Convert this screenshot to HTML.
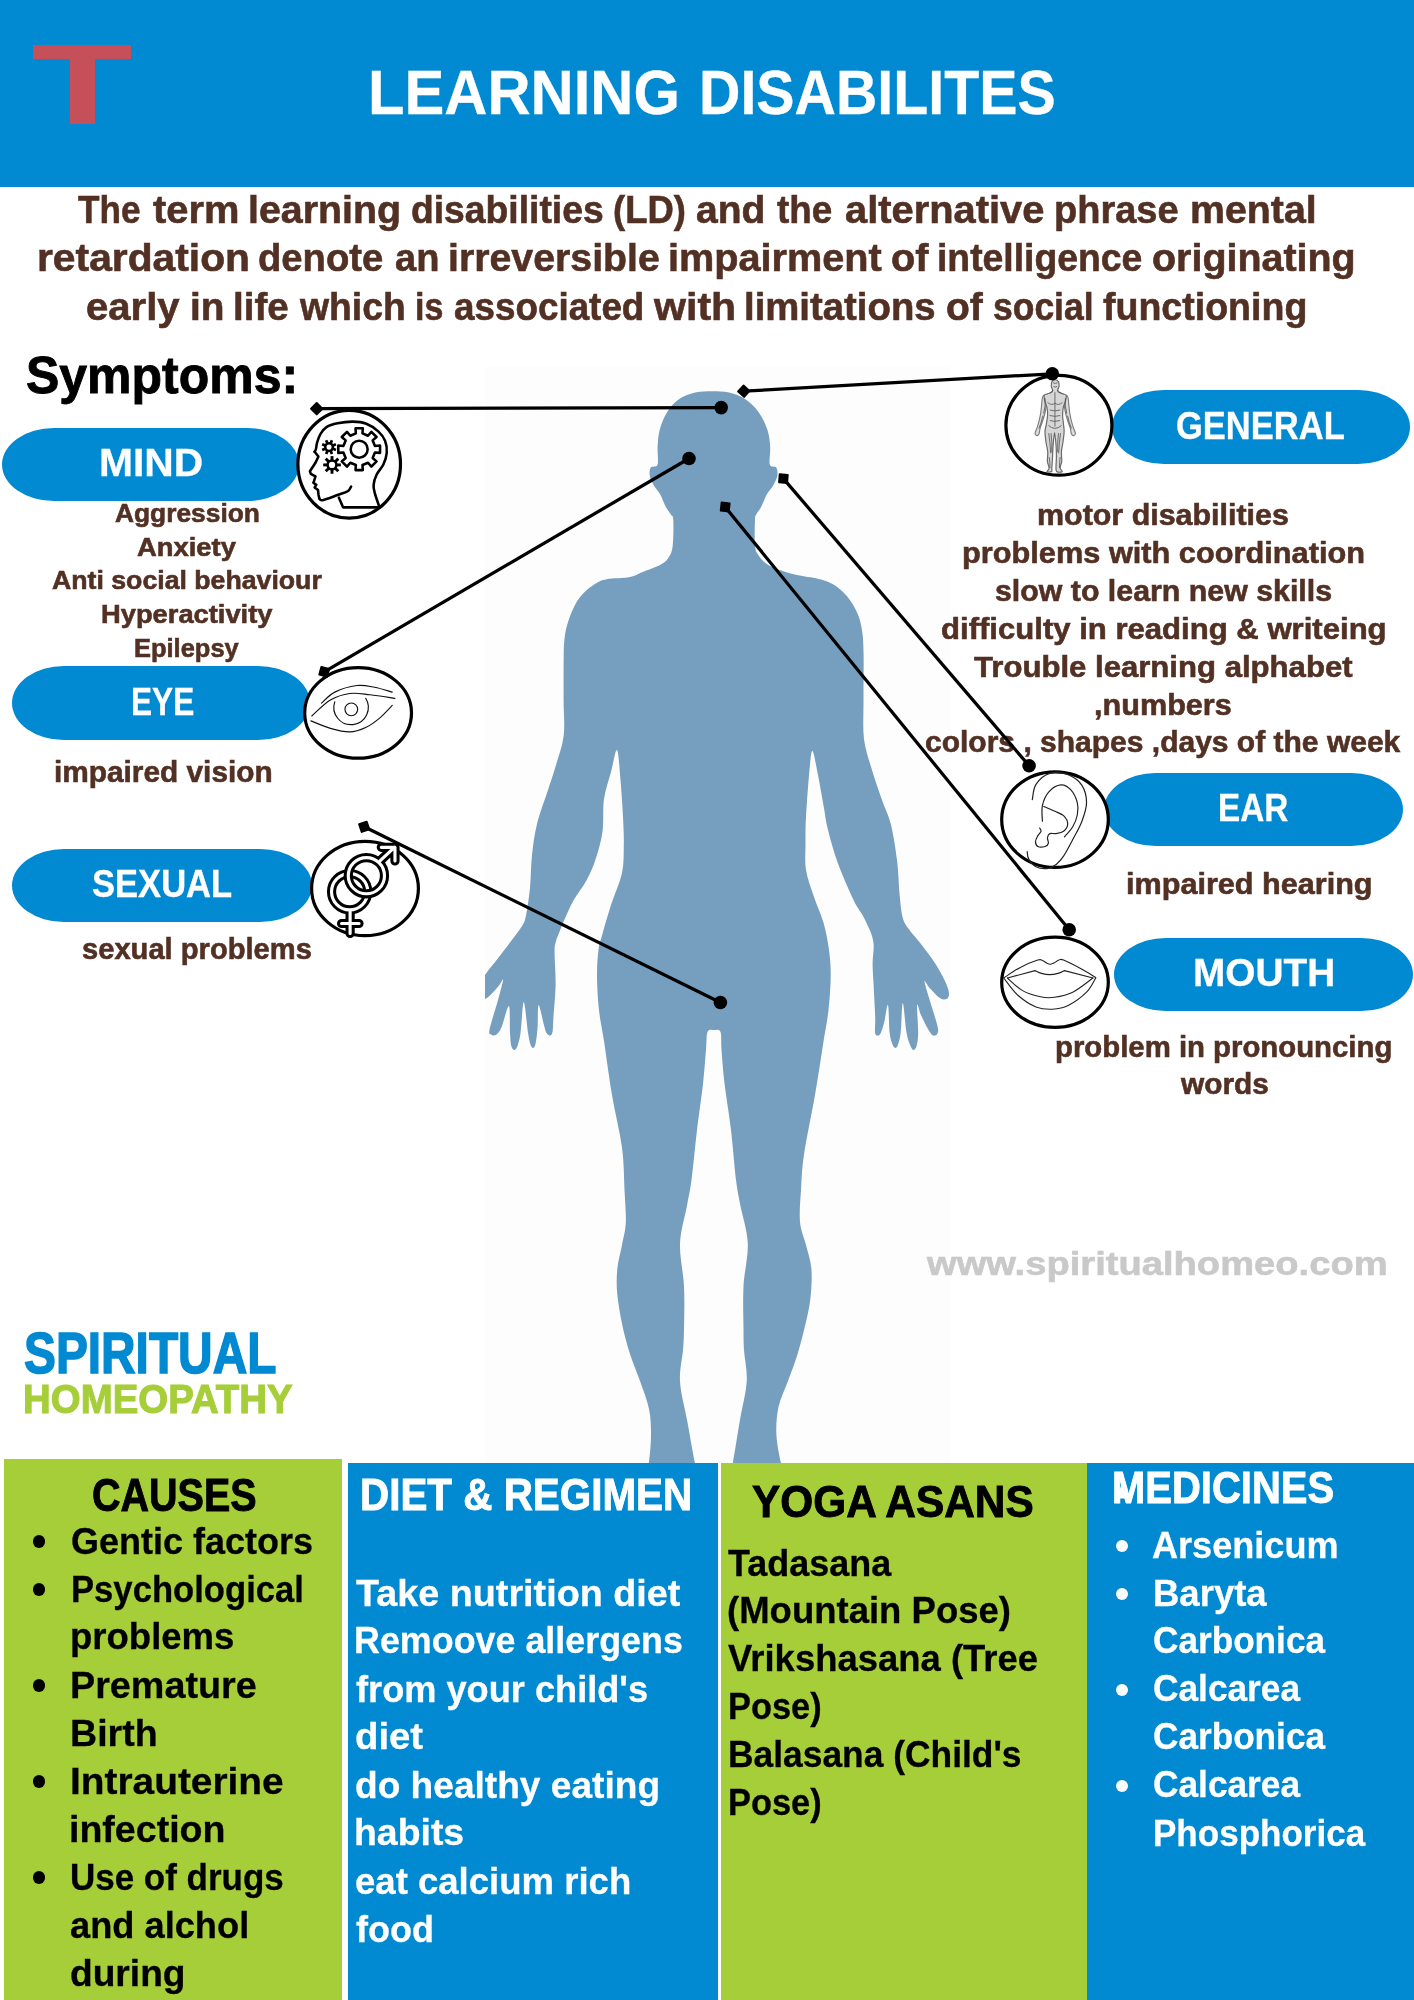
<!DOCTYPE html>
<html lang="en"><head><meta charset="utf-8"><title>Learning Disabilites</title>
<style>
html,body{margin:0;padding:0;background:#fff;}
html{width:1414px;height:2000px;overflow:hidden;}
body{width:1414px;height:2000px;position:relative;overflow:hidden;font-family:"Liberation Sans",sans-serif;}
.b{position:absolute;}
.t{position:absolute;white-space:nowrap;font-weight:bold;-webkit-text-stroke:0.3px;line-height:1;transform-origin:0 0;margin:0;padding:0;}
.pill{position:absolute;background:#0189d2;border-radius:52px / 50%;}
svg{position:absolute;left:0;top:0;display:block;}
</style></head><body>
<div class="b" style="left:0;top:0;width:1414px;height:186.8px;background:#0189d2"></div>
<div class="b" style="left:33.3px;top:45px;width:97.6px;height:14px;background:#c5505a"></div>
<div class="b" style="left:69.8px;top:45px;width:25.2px;height:79.3px;background:#c5505a"></div>
<div class="pill" style="left:1.8px;top:427.9px;width:296.9px;height:73.2px"></div>
<div class="pill" style="left:12.4px;top:665.9px;width:298.1px;height:73.8px"></div>
<div class="pill" style="left:12.4px;top:849px;width:299.9px;height:73.1px"></div>
<div class="pill" style="left:1111.5px;top:390.4px;width:298.3px;height:73.6px"></div>
<div class="pill" style="left:1104.2px;top:772.9px;width:299.1px;height:73.5px"></div>
<div class="pill" style="left:1113.9px;top:937.9px;width:299.3px;height:73.5px"></div>
<svg width="1414" height="2000" viewBox="0 0 1414 2000">
<defs><clipPath id="bc"><rect x="485" y="380" width="466" height="1090"/></clipPath><filter id="bl" x="-5%" y="-5%" width="110%" height="110%"><feGaussianBlur stdDeviation="0.7"/></filter></defs>
<rect x="485" y="366.5" width="465" height="1097" fill="#fdfdfd"/>
<g clip-path="url(#bc)"><path d="M712.2 391.2C717.9 391.2 723.5 391.2 729.1 392.6C734.8 394.0 741.2 396.4 746.1 399.7C751.0 403.0 755.3 407.4 758.8 412.4C762.3 417.3 765.4 423.7 767.3 429.4C769.2 435.1 769.8 440.5 770.2 446.4C770.6 452.2 768.8 461.0 769.8 464.5C770.8 468.0 775.0 465.6 776.3 467.5C777.5 469.4 777.8 473.0 777.3 476.0C776.8 479.0 774.7 482.7 773.0 485.7C771.3 488.7 769.0 490.5 767.0 494.1C765.0 497.7 762.8 503.9 761.0 507.3C759.2 510.7 757.2 512.4 756.2 514.5C755.2 516.6 755.2 514.8 755.0 520.0C754.8 525.2 754.4 539.9 755.0 545.8C755.6 551.7 756.4 552.2 758.6 555.4C760.8 558.6 763.7 562.2 768.3 565.0C772.9 567.8 781.0 570.5 786.3 572.2C791.6 574.0 794.2 574.3 800.0 575.5C805.8 576.7 815.4 578.0 820.8 579.4C826.1 580.8 828.5 581.8 832.1 583.8C835.7 585.8 839.2 588.4 842.5 591.5C845.8 594.6 848.9 598.3 851.6 602.5C854.3 606.7 856.9 611.4 858.7 616.5C860.5 621.6 861.6 626.6 862.4 633.0C863.2 639.4 863.4 643.8 863.6 655.0C863.8 666.2 863.4 686.0 863.5 700.0C863.6 714.0 862.6 727.3 864.0 739.0C865.4 750.7 869.0 759.8 872.0 770.0C875.0 780.2 878.9 791.0 882.0 800.0C885.1 809.0 888.3 814.0 890.8 824.0C893.3 834.0 895.5 848.2 897.0 860.0C898.5 871.8 898.7 885.3 899.6 894.6C900.5 903.9 901.0 910.4 902.3 915.9C903.6 921.4 904.4 922.8 907.6 927.6C910.8 932.4 916.8 938.6 921.4 944.6C926.0 950.6 931.3 957.6 935.2 963.6C939.1 969.6 942.4 975.7 944.7 980.6C947.0 985.5 948.7 989.9 949.0 993.0C949.3 996.1 948.0 998.2 946.5 999.0C945.0 999.8 942.8 999.8 940.0 998.0C937.2 996.2 932.6 991.2 930.0 988.5C927.4 985.8 924.5 979.5 924.5 981.5C924.5 983.5 927.8 993.5 929.9 1000.8C932.0 1008.1 936.0 1019.8 937.3 1025.2C938.6 1030.7 938.2 1031.8 937.5 1033.5C936.8 1035.2 934.6 1036.2 933.0 1035.5C931.4 1034.8 930.0 1032.4 928.0 1029.0C926.0 1025.6 922.8 1019.0 921.0 1015.0C919.2 1011.0 917.6 1002.1 917.1 1005.0C916.6 1007.9 918.3 1025.8 918.2 1032.6C918.1 1039.4 917.4 1043.1 916.6 1046.0C915.8 1048.9 914.5 1050.0 913.5 1050.0C912.5 1050.0 911.7 1048.9 910.5 1046.0C909.3 1043.1 907.8 1039.8 906.5 1032.6C905.2 1025.4 903.8 1003.0 902.8 1003.0C901.8 1003.0 901.5 1025.7 900.7 1032.6C899.9 1039.5 898.9 1041.9 898.0 1044.5C897.1 1047.1 896.4 1048.0 895.5 1048.0C894.6 1048.0 893.5 1047.1 892.5 1044.5C891.5 1041.9 890.4 1039.2 889.6 1032.6C888.9 1026.0 888.9 1006.8 888.0 1005.0C887.1 1003.2 885.5 1017.2 884.3 1022.0C883.0 1026.8 881.7 1031.2 880.5 1033.5C879.3 1035.8 877.9 1035.8 877.0 1035.5C876.1 1035.2 875.3 1035.1 875.0 1032.0C874.7 1028.9 875.4 1024.5 875.2 1016.7C875.0 1008.9 874.0 993.8 873.6 984.9C873.2 976.0 872.6 970.3 872.6 963.6C872.6 956.9 874.0 949.9 873.6 944.6C873.2 939.3 872.3 936.6 870.5 931.8C868.7 927.0 865.8 921.2 863.0 915.9C860.2 910.6 857.7 908.9 853.5 900.0C849.3 891.1 842.0 874.5 837.7 862.8C833.5 851.1 830.4 839.5 828.0 830.0C825.6 820.5 825.3 815.2 823.6 806.0C821.9 796.8 819.9 784.2 818.0 775.0C816.1 765.8 813.9 751.8 812.5 751.0C811.1 750.2 810.6 759.0 809.5 770.0C808.4 781.0 806.7 804.5 806.0 817.0C805.3 829.5 805.5 836.2 805.5 845.0C805.5 853.8 804.6 861.3 806.0 870.0C807.4 878.7 811.1 888.2 814.0 897.0C816.9 905.8 821.1 914.2 823.6 923.0C826.1 931.8 827.8 941.2 829.0 950.0C830.2 958.8 830.8 966.0 830.7 976.0C830.6 986.0 829.7 999.2 828.5 1010.0C827.3 1020.8 825.9 1026.8 823.6 1041.0C821.4 1055.2 818.3 1076.1 815.0 1095.0C811.7 1113.9 806.3 1138.8 804.0 1154.6C801.7 1170.4 801.7 1178.8 801.0 1190.0C800.3 1201.2 799.2 1212.8 800.0 1222.0C800.8 1231.2 804.1 1237.2 806.0 1245.0C807.9 1252.8 810.7 1260.0 811.4 1269.0C812.1 1278.0 811.5 1289.3 810.4 1298.8C809.3 1308.3 807.1 1316.8 805.0 1326.0C802.9 1335.2 800.4 1344.8 797.6 1354.0C794.8 1363.2 791.2 1372.2 788.0 1381.0C784.8 1389.8 780.4 1398.1 778.5 1407.0C776.6 1415.9 776.0 1425.4 776.4 1434.6C776.8 1443.8 779.1 1454.4 780.7 1462.0C782.3 1469.6 785.1 1473.7 786.0 1480.0C786.9 1486.3 795.7 1496.7 786.0 1500.0C776.3 1503.3 737.5 1503.3 728.0 1500.0C718.5 1496.7 728.2 1486.3 729.0 1480.0C729.8 1473.7 731.2 1472.0 733.0 1462.0C734.8 1452.0 737.7 1433.2 740.0 1419.8C742.3 1406.4 746.0 1393.2 746.7 1381.6C747.4 1370.0 744.5 1358.8 744.0 1350.0C743.5 1341.2 743.6 1339.2 743.5 1328.5C743.4 1317.8 742.8 1300.2 743.5 1286.0C744.2 1271.8 748.3 1257.0 747.8 1243.6C747.3 1230.2 742.4 1216.1 740.4 1205.5C738.4 1194.9 737.6 1192.6 736.0 1180.0C734.4 1167.4 732.9 1146.0 731.0 1130.0C729.1 1114.0 726.2 1097.3 724.6 1084.0C723.0 1070.7 722.2 1058.7 721.5 1050.0C720.8 1041.3 721.8 1035.3 720.5 1032.0C719.2 1028.7 716.2 1030.0 714.0 1030.0C711.8 1030.0 708.8 1028.7 707.5 1032.0C706.2 1035.3 706.8 1041.3 706.0 1050.0C705.2 1058.7 704.5 1070.7 703.0 1084.0C701.5 1097.3 698.9 1114.0 697.0 1130.0C695.1 1146.0 693.2 1167.4 691.5 1180.0C689.8 1192.6 688.9 1194.9 687.0 1205.5C685.1 1216.1 680.5 1230.2 680.0 1243.6C679.5 1257.0 683.3 1271.8 684.0 1286.0C684.7 1300.2 684.2 1317.8 684.0 1328.5C683.8 1339.2 683.7 1341.2 683.0 1350.0C682.3 1358.8 679.3 1370.0 680.0 1381.6C680.7 1393.2 684.5 1406.4 687.0 1419.8C689.5 1433.2 692.7 1452.0 694.7 1462.0C696.7 1472.0 698.1 1473.7 699.0 1480.0C699.9 1486.3 709.3 1496.7 700.0 1500.0C690.7 1503.3 652.2 1503.3 643.0 1500.0C633.8 1496.7 644.0 1486.3 645.0 1480.0C646.0 1473.7 648.0 1469.6 649.0 1462.0C650.0 1454.4 651.0 1443.4 651.0 1434.6C651.0 1425.8 650.8 1417.9 649.0 1409.0C647.2 1400.1 643.2 1390.2 640.0 1381.0C636.8 1371.8 632.9 1363.2 630.0 1354.0C627.1 1344.8 624.6 1335.9 622.5 1326.0C620.4 1316.1 618.2 1304.1 617.3 1294.6C616.4 1285.1 616.5 1277.3 617.3 1269.0C618.1 1260.7 620.6 1252.8 622.0 1245.0C623.4 1237.2 625.4 1231.6 625.8 1222.4C626.2 1213.2 625.1 1202.5 624.5 1190.0C623.9 1177.5 624.1 1163.3 622.0 1147.5C619.9 1131.7 615.0 1112.8 612.0 1095.0C609.0 1077.2 606.2 1055.2 604.0 1041.0C601.8 1026.8 600.2 1020.8 599.0 1010.0C597.8 999.2 597.1 986.0 597.0 976.0C596.9 966.0 597.6 957.1 598.5 950.0C599.4 942.9 600.5 941.0 602.6 933.5C604.7 926.0 607.8 915.1 611.0 905.0C614.2 894.9 619.9 883.0 622.0 873.0C624.1 863.0 623.6 854.3 623.8 845.0C624.0 835.7 623.5 827.8 623.0 817.0C622.5 806.2 621.5 791.2 620.5 780.0C619.5 768.8 618.6 751.3 617.0 750.0C615.4 748.7 613.2 763.8 611.0 772.0C608.8 780.2 605.4 789.2 604.0 799.0C602.6 808.8 603.9 821.2 602.6 831.0C601.3 840.8 598.6 849.8 596.0 858.0C593.4 866.2 590.4 873.0 586.7 880.0C583.0 887.0 577.3 893.7 573.7 900.0C570.1 906.3 567.5 912.9 565.2 918.0C562.9 923.1 561.5 926.7 559.9 930.8C558.3 934.9 556.5 938.7 555.6 942.4C554.7 946.1 554.6 945.9 554.6 953.0C554.6 960.1 555.8 974.3 555.6 984.9C555.4 995.5 554.0 1008.9 553.5 1016.7C553.0 1024.5 553.1 1028.9 552.5 1032.0C551.9 1035.1 551.0 1035.3 550.0 1035.5C549.0 1035.7 547.5 1034.7 546.5 1033.0C545.5 1031.3 545.3 1029.9 544.0 1025.2C542.7 1020.5 539.7 1004.6 538.6 1005.0C537.5 1005.4 538.1 1020.8 537.6 1027.3C537.1 1033.8 536.3 1040.5 535.5 1044.0C534.7 1047.5 533.9 1048.0 533.0 1048.0C532.1 1048.0 531.1 1046.6 530.3 1044.0C529.5 1041.4 529.1 1039.6 528.0 1032.6C526.9 1025.6 525.0 1002.0 523.8 1002.0C522.6 1002.0 521.6 1025.3 520.6 1032.6C519.6 1039.9 518.5 1043.1 517.5 1046.0C516.5 1048.9 515.3 1050.0 514.3 1050.0C513.3 1050.0 512.0 1048.9 511.3 1046.0C510.6 1043.1 510.4 1039.3 510.0 1032.6C509.6 1025.9 510.3 1006.9 508.9 1006.0C507.5 1005.1 503.6 1022.5 501.5 1027.3C499.4 1032.0 498.1 1033.2 496.5 1034.5C494.9 1035.8 493.2 1035.8 492.0 1035.0C490.8 1034.2 488.5 1035.7 489.5 1030.0C490.5 1024.3 495.5 1009.1 497.8 1000.8C500.1 992.5 502.8 982.6 503.1 980.0C503.4 977.4 501.4 982.5 499.4 984.9C497.4 987.3 493.5 992.0 490.9 994.4C488.3 996.8 485.3 999.7 484.0 999.0C482.7 998.3 483.0 993.7 483.0 990.0C483.0 986.3 481.8 981.9 484.0 977.0C486.2 972.1 491.9 966.3 496.2 960.5C500.5 954.7 505.8 948.1 510.0 942.4C514.2 936.7 519.1 930.9 521.7 926.5C524.4 922.1 524.5 922.4 525.9 915.9C527.3 909.4 529.0 897.6 530.0 887.5C531.0 877.4 530.8 865.6 532.0 855.0C533.2 844.4 534.3 834.8 537.0 824.0C539.7 813.2 544.8 799.8 548.0 790.0C551.2 780.2 553.4 774.1 556.0 765.0C558.6 755.9 562.4 746.3 563.7 735.5C565.0 724.7 563.6 713.4 563.6 700.0C563.6 686.6 563.5 665.8 563.7 655.0C563.9 644.2 564.2 640.8 565.0 635.0C565.8 629.2 567.0 625.1 568.7 620.0C570.5 614.9 573.0 608.6 575.5 604.1C578.0 599.6 580.6 596.2 583.9 592.8C587.2 589.4 591.5 586.1 595.3 583.8C599.1 581.5 600.8 580.3 606.6 579.2C612.4 578.1 624.1 578.2 630.0 577.0C635.9 575.8 637.0 574.2 642.0 572.2C647.0 570.2 655.6 567.4 660.0 565.0C664.4 562.6 666.4 561.0 668.5 557.8C670.6 554.6 671.9 552.1 672.7 545.8C673.5 539.5 673.6 525.2 673.3 520.0C673.0 514.8 672.1 516.6 670.9 514.5C669.7 512.4 667.8 510.7 666.0 507.3C664.2 503.9 662.0 497.7 660.0 494.1C658.0 490.5 655.7 488.7 654.0 485.7C652.3 482.7 650.3 479.0 649.8 476.0C649.3 473.0 649.5 469.4 650.8 467.5C652.1 465.6 656.5 468.0 657.6 464.5C658.7 461.0 657.2 452.2 657.6 446.4C658.0 440.5 658.2 435.1 659.8 429.4C661.3 423.7 663.8 417.3 666.9 412.4C670.0 407.4 673.5 403.0 678.2 399.7C682.9 396.4 689.5 394.0 695.2 392.6C700.9 391.2 706.6 391.2 712.2 391.2Z" fill="#769ebf" filter="url(#bl)"/></g>
<ellipse cx="349.2" cy="464.2" rx="51.3" ry="53.9" fill="#fff" stroke="#000" stroke-width="3.2"/>
<ellipse cx="358.1" cy="712.9" rx="53.4" ry="45.3" fill="#fff" stroke="#000" stroke-width="3.2"/>
<ellipse cx="365.0" cy="888.5" rx="53.4" ry="47.2" fill="#fff" stroke="#000" stroke-width="3.2"/>
<ellipse cx="1058.9" cy="425.3" rx="53.0" ry="49.9" fill="#fff" stroke="#000" stroke-width="3.2"/>
<ellipse cx="1055.0" cy="819.6" rx="53.3" ry="47.8" fill="#fff" stroke="#000" stroke-width="3.2"/>
<ellipse cx="1055.0" cy="982.3" rx="53.3" ry="45.1" fill="#fff" stroke="#000" stroke-width="3.2"/>
<g transform="translate(290 400) scale(0.08487)" fill="none" stroke="#000" stroke-width="30" stroke-linecap="round" stroke-linejoin="round"><path d="M1050.0 1250.0C1041.7 1225.0 1010.8 1141.7 1000.0 1100.0C989.2 1058.3 981.7 1036.7 985.0 1000.0C988.3 963.3 1000.8 920.0 1020.0 880.0C1039.2 840.0 1080.0 803.3 1100.0 760.0C1120.0 716.7 1136.7 666.7 1140.0 620.0C1143.3 573.3 1136.7 521.7 1120.0 480.0C1103.3 438.3 1076.7 403.3 1040.0 370.0C1003.3 336.7 950.0 299.2 900.0 280.0C850.0 260.8 796.7 255.8 740.0 255.0C683.3 254.2 611.7 264.2 560.0 275.0C508.3 285.8 463.3 299.2 430.0 320.0C396.7 340.8 378.3 370.0 360.0 400.0C341.7 430.0 329.2 470.0 320.0 500.0C310.8 530.0 310.0 561.7 305.0 580.0C300.0 598.3 292.5 605.0 290.0 610.0"/><path d="M290 610L335 665L300 740L235 840L245 870L300 900L285 950L275 975L310 1000L290 1030L330 1060L335 1110L345 1160"/><path d="M345.0 1160.0C351.7 1163.3 349.2 1186.7 385.0 1180.0C420.8 1173.3 510.8 1137.5 560.0 1120.0C609.2 1102.5 653.3 1091.7 680.0 1075.0C706.7 1058.3 713.3 1029.2 720.0 1020.0"/><path d="M575 1150L625 1265L1040 1265"/><path d="M1001 541L1061 537L1061 623L1001 619L974 684L1020 724L959 785L919 739L854 766L858 826L772 826L776 766L711 739L671 785L610 724L656 684L629 619L569 623L569 537L629 541L656 476L610 436L671 375L711 421L776 394L772 334L858 334L854 394L919 421L959 375L1020 436L974 476Z"/><circle cx="815" cy="580" r="100"/><circle cx="460" cy="555" r="45" fill="none" stroke="#000" stroke-width="30"/><line x1="507" y1="575" x2="541" y2="589" stroke="#000" stroke-width="32" stroke-linecap="butt"/><line x1="480" y1="602" x2="494" y2="636" stroke="#000" stroke-width="32" stroke-linecap="butt"/><line x1="440" y1="602" x2="426" y2="636" stroke="#000" stroke-width="32" stroke-linecap="butt"/><line x1="413" y1="575" x2="379" y2="589" stroke="#000" stroke-width="32" stroke-linecap="butt"/><line x1="413" y1="535" x2="379" y2="521" stroke="#000" stroke-width="32" stroke-linecap="butt"/><line x1="440" y1="508" x2="426" y2="474" stroke="#000" stroke-width="32" stroke-linecap="butt"/><line x1="480" y1="508" x2="494" y2="474" stroke="#000" stroke-width="32" stroke-linecap="butt"/><line x1="507" y1="535" x2="541" y2="521" stroke="#000" stroke-width="32" stroke-linecap="butt"/><circle cx="495" cy="765" r="52" fill="none" stroke="#000" stroke-width="30"/><line x1="553" y1="765" x2="599" y2="765" stroke="#000" stroke-width="34" stroke-linecap="butt"/><line x1="536" y1="806" x2="569" y2="839" stroke="#000" stroke-width="34" stroke-linecap="butt"/><line x1="495" y1="823" x2="495" y2="869" stroke="#000" stroke-width="34" stroke-linecap="butt"/><line x1="454" y1="806" x2="421" y2="839" stroke="#000" stroke-width="34" stroke-linecap="butt"/><line x1="437" y1="765" x2="391" y2="765" stroke="#000" stroke-width="34" stroke-linecap="butt"/><line x1="454" y1="724" x2="421" y2="691" stroke="#000" stroke-width="34" stroke-linecap="butt"/><line x1="495" y1="707" x2="495" y2="661" stroke="#000" stroke-width="34" stroke-linecap="butt"/><line x1="536" y1="724" x2="569" y2="691" stroke="#000" stroke-width="34" stroke-linecap="butt"/></g>
<g transform="translate(295 655) scale(0.08840)" fill="none" stroke="#111" stroke-width="13" stroke-linecap="round"><path d="M190.0 690.0C225.0 660.0 328.3 552.5 400.0 510.0C471.7 467.5 545.0 445.0 620.0 435.0C695.0 425.0 765.0 440.8 850.0 450.0C935.0 459.2 1083.3 483.3 1130.0 490.0"/><path d="M300.0 545.0C325.0 524.2 383.3 453.3 450.0 420.0C516.7 386.7 625.0 354.2 700.0 345.0C775.0 335.8 833.3 352.5 900.0 365.0C966.7 377.5 1066.7 410.8 1100.0 420.0"/><path d="M180.0 745.0C216.7 759.2 326.7 809.2 400.0 830.0C473.3 850.8 553.3 871.7 620.0 870.0C686.7 868.3 745.0 845.0 800.0 820.0C855.0 795.0 900.0 761.7 950.0 720.0C1000.0 678.3 1075.0 595.0 1100.0 570.0"/><path d="M450 530A195 195 0 1 0 800 490"/><circle cx="637" cy="615" r="72"/></g>
<g transform="translate(300 815) scale(0.09194)" fill="none" stroke-linecap="round" stroke-linejoin="round"><g stroke="#000" stroke-width="100"><circle cx="540" cy="835" r="197"/><path d="M545 1050V1288M452 1180H642"/></g><g stroke="#fff" stroke-width="34"><circle cx="540" cy="835" r="197"/><path d="M545 1050V1288M452 1180H642"/></g><g stroke="#000" stroke-width="100"><circle cx="722" cy="660" r="197"/><path d="M870 500L1030 350M884 352H1033V500"/></g><g stroke="#fff" stroke-width="34"><circle cx="722" cy="660" r="197"/><path d="M870 500L1030 350M884 352H1033V500"/></g></g>
<g transform="translate(995 360) scale(0.09194)" stroke-linejoin="round" stroke-linecap="round"><path d="M538.0 382.0C545.7 383.7 559.0 400.3 562.0 420.0C565.0 439.7 559.7 471.7 556.0 500.0C552.3 528.3 547.3 560.0 540.0 590.0C532.7 620.0 520.3 654.2 512.0 680.0C503.7 705.8 495.7 724.2 490.0 745.0C484.3 765.8 484.3 792.2 478.0 805.0C471.7 817.8 459.0 823.7 452.0 822.0C445.0 820.3 435.0 809.5 436.0 795.0C437.0 780.5 450.3 759.2 458.0 735.0C465.7 710.8 475.3 677.5 482.0 650.0C488.7 622.5 493.7 598.3 498.0 570.0C502.3 541.7 505.0 506.7 508.0 480.0C511.0 453.3 511.0 426.3 516.0 410.0C521.0 393.7 530.3 380.3 538.0 382.0Z" fill="#dcdcdc" stroke="#7a7a7a" stroke-width="12"/><path d="M772.0 382.0C764.3 383.7 751.0 400.3 748.0 420.0C745.0 439.7 750.3 471.7 754.0 500.0C757.7 528.3 762.7 560.0 770.0 590.0C777.3 620.0 789.7 654.2 798.0 680.0C806.3 705.8 814.3 724.2 820.0 745.0C825.7 765.8 825.7 792.2 832.0 805.0C838.3 817.8 851.0 823.7 858.0 822.0C865.0 820.3 875.0 809.5 874.0 795.0C873.0 780.5 859.7 759.2 852.0 735.0C844.3 710.8 834.7 677.5 828.0 650.0C821.3 622.5 816.3 598.3 812.0 570.0C807.7 541.7 805.0 506.7 802.0 480.0C799.0 453.3 799.0 426.3 794.0 410.0C789.0 393.7 779.7 380.3 772.0 382.0Z" fill="#dcdcdc" stroke="#7a7a7a" stroke-width="12"/><path d="M655.0 215.0C666.7 215.0 683.0 223.3 690.0 235.0C697.0 246.7 698.3 270.0 697.0 285.0C695.7 300.0 683.2 314.5 682.0 325.0C680.8 335.5 680.3 340.8 690.0 348.0C699.7 355.2 725.8 361.8 740.0 368.0C754.2 374.2 770.3 373.0 775.0 385.0C779.7 397.0 773.5 417.5 768.0 440.0C762.5 462.5 747.5 493.3 742.0 520.0C736.5 546.7 734.5 570.0 735.0 600.0C735.5 630.0 742.2 670.0 745.0 700.0C747.8 730.0 753.2 746.7 752.0 780.0C750.8 813.3 743.0 863.3 738.0 900.0C733.0 936.7 724.0 966.7 722.0 1000.0C720.0 1033.3 728.3 1070.8 726.0 1100.0C723.7 1129.2 707.0 1156.3 708.0 1175.0C709.0 1193.7 735.0 1204.5 732.0 1212.0C729.0 1219.5 701.3 1222.8 690.0 1220.0C678.7 1217.2 667.7 1223.3 664.0 1195.0C660.3 1166.7 668.0 1094.2 668.0 1050.0C668.0 1005.8 667.3 973.3 664.0 930.0C660.7 886.7 653.3 790.0 648.0 790.0C642.7 790.0 635.7 886.7 632.0 930.0C628.3 973.3 628.3 1008.3 626.0 1050.0C623.7 1091.7 619.7 1153.0 618.0 1180.0C616.3 1207.0 624.7 1206.0 616.0 1212.0C607.3 1218.0 570.7 1221.7 566.0 1216.0C561.3 1210.3 587.3 1197.3 588.0 1178.0C588.7 1158.7 572.3 1129.7 570.0 1100.0C567.7 1070.3 576.3 1033.3 574.0 1000.0C571.7 966.7 561.0 936.7 556.0 900.0C551.0 863.3 543.7 813.3 544.0 780.0C544.3 746.7 553.3 730.0 558.0 700.0C562.7 670.0 570.7 630.0 572.0 600.0C573.3 570.0 571.3 546.7 566.0 520.0C560.7 493.3 545.2 462.5 540.0 440.0C534.8 417.5 530.0 397.0 535.0 385.0C540.0 373.0 556.2 374.2 570.0 368.0C583.8 361.8 608.7 355.2 618.0 348.0C627.3 340.8 627.0 335.5 626.0 325.0C625.0 314.5 613.0 300.0 612.0 285.0C611.0 270.0 612.8 246.7 620.0 235.0C627.2 223.3 643.3 215.0 655.0 215.0Z" fill="#d6d6d6" stroke="#6a6a6a" stroke-width="13"/><g fill="none" stroke="#3c3c3c" stroke-width="10" opacity=".75"><path d="M575 465Q615 500 652 470Q690 500 730 465M652 355V720M600 545Q652 565 705 545M598 605Q652 622 706 605M602 660Q652 676 702 660M585 715Q652 775 720 715"/><path d="M585 800Q600 900 606 1010M712 800Q698 900 692 1010M610 800Q622 900 618 1000M690 800Q678 900 682 1000M590 1060Q600 1120 598 1170M708 1060Q700 1120 702 1170"/><path d="M636 250Q655 262 676 250M640 290Q655 300 672 290M630 330L600 362M682 330L712 362"/><path d="M545 420Q552 500 530 580M765 420Q758 500 780 580M520 610Q505 680 480 740M790 610Q805 680 830 740"/></g></g>
<g transform="translate(990 755) scale(0.09194)" fill="none" stroke="#222" stroke-width="13" stroke-linecap="round"><path d="M460.0 485.0C466.7 457.5 468.3 367.5 500.0 320.0C531.7 272.5 591.7 217.5 650.0 200.0C708.3 182.5 791.7 193.3 850.0 215.0C908.3 236.7 966.7 279.2 1000.0 330.0C1033.3 380.8 1050.0 455.0 1050.0 520.0C1050.0 585.0 1025.0 653.3 1000.0 720.0C975.0 786.7 933.3 856.7 900.0 920.0C866.7 983.3 830.0 1055.0 800.0 1100.0C770.0 1145.0 750.0 1167.5 720.0 1190.0C690.0 1212.5 656.7 1230.8 620.0 1235.0C583.3 1239.2 533.3 1232.5 500.0 1215.0C466.7 1197.5 435.8 1157.5 420.0 1130.0C404.2 1102.5 407.5 1063.3 405.0 1050.0"/><path d="M570.0 720.0C570.0 691.7 558.3 603.3 570.0 550.0C581.7 496.7 606.7 437.5 640.0 400.0C673.3 362.5 730.0 328.3 770.0 325.0C810.0 321.7 850.0 347.5 880.0 380.0C910.0 412.5 938.3 475.0 950.0 520.0C961.7 565.0 958.3 606.7 950.0 650.0C941.7 693.3 923.3 740.0 900.0 780.0C876.7 820.0 825.0 871.7 810.0 890.0"/><path d="M585.0 560.0C604.2 568.3 664.2 593.3 700.0 610.0C735.8 626.7 775.8 636.7 800.0 660.0C824.2 683.3 845.0 721.7 845.0 750.0C845.0 778.3 820.8 812.5 800.0 830.0C779.2 847.5 745.0 850.8 720.0 855.0C695.0 859.2 665.8 847.5 650.0 855.0C634.2 862.5 627.5 882.5 625.0 900.0C622.5 917.5 639.2 944.2 635.0 960.0C630.8 975.8 619.2 989.2 600.0 995.0C580.8 1000.8 537.5 1004.2 520.0 995.0C502.5 985.8 495.0 959.2 495.0 940.0C495.0 920.8 510.0 898.3 520.0 880.0C530.0 861.7 551.7 844.2 555.0 830.0C558.3 815.8 542.5 800.8 540.0 795.0"/></g>
<g transform="translate(990 915) scale(0.09194)" fill="none" stroke="#222" stroke-width="12" stroke-linecap="round" stroke-linejoin="round"><path d="M150.0 685.0C180.0 665.8 268.3 602.5 330.0 570.0C391.7 537.5 480.0 502.5 520.0 490.0C560.0 477.5 553.3 489.2 570.0 495.0C586.7 500.8 605.0 518.3 620.0 525.0C635.0 531.7 646.7 535.8 660.0 535.0C673.3 534.2 685.0 527.5 700.0 520.0C715.0 512.5 733.3 495.0 750.0 490.0C766.7 485.0 758.3 473.3 800.0 490.0C841.7 506.7 941.7 558.3 1000.0 590.0C1058.3 621.7 1125.0 665.0 1150.0 680.0"/><path d="M150.0 685.0C175.0 715.8 241.7 817.5 300.0 870.0C358.3 922.5 436.7 974.2 500.0 1000.0C563.3 1025.8 621.7 1027.5 680.0 1025.0C738.3 1022.5 788.3 1015.8 850.0 985.0C911.7 954.2 1000.0 890.0 1050.0 840.0C1100.0 790.0 1133.3 710.8 1150.0 685.0"/><path d="M190 685L490 605C501.7 610.0 533.3 627.8 560.0 635.0C586.7 642.2 620.0 648.0 650.0 648.0C680.0 648.0 713.3 642.2 740.0 635.0C766.7 627.8 798.3 610.0 810.0 605.0"/><path d="M810 605L1120 685"/><path d="M190.0 685.0C216.7 707.5 290.0 785.8 350.0 820.0C410.0 854.2 491.7 877.5 550.0 890.0C608.3 902.5 641.7 903.3 700.0 895.0C758.3 886.7 830.0 875.0 900.0 840.0C970.0 805.0 1083.3 710.8 1120.0 685.0"/></g>
</svg>
<div class="b" style="left:4px;top:1459px;width:338px;height:541px;background:#a6ce39"></div>
<div class="b" style="left:348px;top:1462.6px;width:370px;height:537.4px;background:#0189d2"></div>
<div class="b" style="left:720.6px;top:1462.6px;width:366.6px;height:537.4px;background:#a6ce39"></div>
<div class="b" style="left:1087.2px;top:1462.6px;width:326.8px;height:537.4px;background:#0189d2"></div>
<div class="b" style="left:32.6px;top:1535.3px;width:12.4px;height:12.4px;border-radius:50%;background:#000"></div>
<div class="b" style="left:32.6px;top:1583.2px;width:12.4px;height:12.4px;border-radius:50%;background:#000"></div>
<div class="b" style="left:32.6px;top:1679.3px;width:12.4px;height:12.4px;border-radius:50%;background:#000"></div>
<div class="b" style="left:32.6px;top:1775.3px;width:12.4px;height:12.4px;border-radius:50%;background:#000"></div>
<div class="b" style="left:32.6px;top:1871.4px;width:12.4px;height:12.4px;border-radius:50%;background:#000"></div>
<div class="b" style="left:1115.6px;top:1539.5px;width:12.4px;height:12.4px;border-radius:50%;background:#fff"></div>
<div class="b" style="left:1115.6px;top:1587.5px;width:12.4px;height:12.4px;border-radius:50%;background:#fff"></div>
<div class="b" style="left:1115.6px;top:1683.7px;width:12.4px;height:12.4px;border-radius:50%;background:#fff"></div>
<div class="b" style="left:1115.6px;top:1779.8px;width:12.4px;height:12.4px;border-radius:50%;background:#fff"></div>
<div class="t" id="t0" style="left:368.19px;top:62.40px;font-size:62.21px;color:#fff;transform:scaleX(0.9601);">LEARNING</div>
<div class="t" id="t1" style="left:698.56px;top:62.40px;font-size:62.21px;color:#fff;transform:scaleX(0.9214);">DISABILITES</div>
<div class="t" id="t2" style="left:78.08px;top:190.00px;font-size:39.69px;color:#523023;transform:scaleX(0.8866);-webkit-text-stroke:0.6px;">The</div>
<div class="t" id="t3" style="left:153.41px;top:190.00px;font-size:39.69px;color:#523023;transform:scaleX(1.0048);-webkit-text-stroke:0.6px;">term</div>
<div class="t" id="t4" style="left:247.55px;top:190.00px;font-size:39.69px;color:#523023;transform:scaleX(0.9918);-webkit-text-stroke:0.6px;">learning</div>
<div class="t" id="t5" style="left:410.94px;top:190.00px;font-size:39.69px;color:#523023;transform:scaleX(0.9394);-webkit-text-stroke:0.6px;">disabilities</div>
<div class="t" id="t6" style="left:613.06px;top:190.00px;font-size:39.69px;color:#523023;transform:scaleX(0.9188);-webkit-text-stroke:0.6px;">(LD)</div>
<div class="t" id="t7" style="left:696.14px;top:190.00px;font-size:39.69px;color:#523023;transform:scaleX(0.9841);-webkit-text-stroke:0.6px;">and</div>
<div class="t" id="t8" style="left:777.33px;top:190.00px;font-size:39.69px;color:#523023;transform:scaleX(0.9277);-webkit-text-stroke:0.6px;">the</div>
<div class="t" id="t9" style="left:844.72px;top:190.00px;font-size:39.69px;color:#523023;transform:scaleX(1.0046);-webkit-text-stroke:0.6px;">alternative</div>
<div class="t" id="t10" style="left:1054.07px;top:190.00px;font-size:39.69px;color:#523023;transform:scaleX(0.9576);-webkit-text-stroke:0.6px;">phrase</div>
<div class="t" id="t11" style="left:1189.59px;top:190.00px;font-size:39.69px;color:#523023;transform:scaleX(0.9913);-webkit-text-stroke:0.6px;">mental</div>
<div class="t" id="t12" style="left:36.90px;top:238.00px;font-size:39.69px;color:#523023;transform:scaleX(1.0279);-webkit-text-stroke:0.6px;">retardation</div>
<div class="t" id="t13" style="left:258.11px;top:238.00px;font-size:39.69px;color:#523023;transform:scaleX(0.9627);-webkit-text-stroke:0.6px;">denote</div>
<div class="t" id="t14" style="left:394.76px;top:238.00px;font-size:39.69px;color:#523023;transform:scaleX(0.9603);-webkit-text-stroke:0.6px;">an</div>
<div class="t" id="t15" style="left:448.05px;top:238.00px;font-size:39.69px;color:#523023;transform:scaleX(0.9900);-webkit-text-stroke:0.6px;">irreversible</div>
<div class="t" id="t16" style="left:667.93px;top:238.00px;font-size:39.69px;color:#523023;transform:scaleX(0.9996);-webkit-text-stroke:0.6px;">impairment</div>
<div class="t" id="t17" style="left:891.13px;top:238.00px;font-size:39.69px;color:#523023;transform:scaleX(1.0006);-webkit-text-stroke:0.6px;">of</div>
<div class="t" id="t18" style="left:936.57px;top:238.00px;font-size:39.69px;color:#523023;transform:scaleX(0.9410);-webkit-text-stroke:0.6px;">intelligence</div>
<div class="t" id="t19" style="left:1152.44px;top:238.00px;font-size:39.69px;color:#523023;transform:scaleX(0.9938);-webkit-text-stroke:0.6px;">originating</div>
<div class="t" id="t20" style="left:85.93px;top:286.50px;font-size:39.69px;color:#523023;transform:scaleX(1.0103);-webkit-text-stroke:0.6px;">early</div>
<div class="t" id="t21" style="left:190.48px;top:286.50px;font-size:39.69px;color:#523023;transform:scaleX(0.9771);-webkit-text-stroke:0.6px;">in</div>
<div class="t" id="t22" style="left:233.00px;top:286.50px;font-size:39.69px;color:#523023;transform:scaleX(0.9709);-webkit-text-stroke:0.6px;">life</div>
<div class="t" id="t23" style="left:300.25px;top:286.50px;font-size:39.69px;color:#523023;transform:scaleX(0.9406);-webkit-text-stroke:0.6px;">which</div>
<div class="t" id="t24" style="left:415.09px;top:286.50px;font-size:39.69px;color:#523023;transform:scaleX(0.8552);-webkit-text-stroke:0.6px;">is</div>
<div class="t" id="t25" style="left:453.99px;top:286.50px;font-size:39.69px;color:#523023;transform:scaleX(0.9282);-webkit-text-stroke:0.6px;">associated</div>
<div class="t" id="t26" style="left:654.19px;top:286.50px;font-size:39.69px;color:#523023;transform:scaleX(1.0365);-webkit-text-stroke:0.6px;">with</div>
<div class="t" id="t27" style="left:744.11px;top:286.50px;font-size:39.69px;color:#523023;transform:scaleX(0.9660);-webkit-text-stroke:0.6px;">limitations</div>
<div class="t" id="t28" style="left:946.06px;top:286.50px;font-size:39.69px;color:#523023;transform:scaleX(0.9815);-webkit-text-stroke:0.6px;">of</div>
<div class="t" id="t29" style="left:992.83px;top:286.50px;font-size:39.69px;color:#523023;transform:scaleX(0.8941);-webkit-text-stroke:0.6px;">social</div>
<div class="t" id="t30" style="left:1103.44px;top:286.50px;font-size:39.69px;color:#523023;transform:scaleX(0.9463);-webkit-text-stroke:0.6px;">functioning</div>
<div class="t" id="t31" style="left:26.30px;top:350.10px;font-size:51.78px;color:#000;transform:scaleX(0.9653);-webkit-text-stroke:0.9px;">Symptoms:</div>
<div class="t" id="t32" style="left:99.06px;top:444.10px;font-size:38.81px;color:#fff;transform:scaleX(1.0517);">MIND</div>
<div class="t" id="t33" style="left:130.98px;top:682.50px;font-size:38.81px;color:#fff;transform:scaleX(0.8148);">EYE</div>
<div class="t" id="t34" style="left:92.43px;top:865.20px;font-size:38.81px;color:#fff;transform:scaleX(0.8907);">SEXUAL</div>
<div class="t" id="t35" style="left:1175.56px;top:406.80px;font-size:38.66px;color:#fff;transform:scaleX(0.8927);">GENERAL</div>
<div class="t" id="t36" style="left:1218.46px;top:789.10px;font-size:38.52px;color:#fff;transform:scaleX(0.8641);">EAR</div>
<div class="t" id="t37" style="left:1192.59px;top:954.10px;font-size:38.52px;color:#fff;transform:scaleX(1.0080);">MOUTH</div>
<div class="t" id="t38" style="left:114.91px;top:500.90px;font-size:25.95px;color:#523023;transform:scaleX(1.0153);-webkit-text-stroke:0.6px;">Aggression</div>
<div class="t" id="t39" style="left:137.20px;top:534.90px;font-size:25.95px;color:#523023;transform:scaleX(1.0558);-webkit-text-stroke:0.6px;">Anxiety</div>
<div class="t" id="t40" style="left:51.91px;top:568.40px;font-size:25.95px;color:#523023;transform:scaleX(1.0284);-webkit-text-stroke:0.6px;">Anti social behaviour</div>
<div class="t" id="t41" style="left:101.09px;top:601.90px;font-size:25.95px;color:#523023;transform:scaleX(1.0526);-webkit-text-stroke:0.6px;">Hyperactivity</div>
<div class="t" id="t42" style="left:134.49px;top:635.70px;font-size:25.95px;color:#523023;transform:scaleX(0.9817);-webkit-text-stroke:0.6px;">Epilepsy</div>
<div class="t" id="t43" style="left:53.52px;top:756.70px;font-size:29.88px;color:#523023;transform:scaleX(0.9978);-webkit-text-stroke:0.6px;">impaired vision</div>
<div class="t" id="t44" style="left:82.30px;top:934.30px;font-size:29.88px;color:#523023;transform:scaleX(0.9749);-webkit-text-stroke:0.6px;">sexual problems</div>
<div class="t" id="t45" style="left:1037.09px;top:499.80px;font-size:29.88px;color:#523023;transform:scaleX(1.0182);-webkit-text-stroke:0.6px;">motor disabilities</div>
<div class="t" id="t46" style="left:961.58px;top:537.50px;font-size:29.88px;color:#523023;transform:scaleX(1.0288);-webkit-text-stroke:0.6px;">problems with coordination</div>
<div class="t" id="t47" style="left:994.87px;top:575.50px;font-size:29.88px;color:#523023;transform:scaleX(1.0150);-webkit-text-stroke:0.6px;">slow to learn new skills</div>
<div class="t" id="t48" style="left:940.63px;top:613.50px;font-size:29.88px;color:#523023;transform:scaleX(1.0406);-webkit-text-stroke:0.6px;">difficulty in reading &amp; writeing</div>
<div class="t" id="t49" style="left:974.47px;top:651.50px;font-size:29.88px;color:#523023;transform:scaleX(1.0413);-webkit-text-stroke:0.6px;">Trouble learning alphabet</div>
<div class="t" id="t50" style="left:1094.18px;top:689.50px;font-size:29.88px;color:#523023;transform:scaleX(1.0249);-webkit-text-stroke:0.6px;">,numbers</div>
<div class="t" id="t51" style="left:925.33px;top:727.20px;font-size:29.88px;color:#523023;transform:scaleX(1.0044);-webkit-text-stroke:0.6px;">colors , shapes ,days of the week</div>
<div class="t" id="t52" style="left:1126.27px;top:869.40px;font-size:29.88px;color:#523023;transform:scaleX(1.0242);-webkit-text-stroke:0.6px;">impaired hearing</div>
<div class="t" id="t53" style="left:1054.75px;top:1031.50px;font-size:29.88px;color:#523023;transform:scaleX(0.9820);-webkit-text-stroke:0.6px;">problem in pronouncing</div>
<div class="t" id="t54" style="left:1180.57px;top:1069.10px;font-size:29.88px;color:#523023;transform:scaleX(0.9992);-webkit-text-stroke:0.6px;">words</div>
<div class="t" id="t55" style="left:927.44px;top:1247.00px;font-size:33.66px;color:#c9c9c9;transform:scaleX(1.1333);-webkit-text-stroke:0.6px;">www.spiritualhomeo.com</div>
<div class="t" id="t56" style="left:24.29px;top:1326.00px;font-size:56.69px;color:#0189d2;transform:scaleX(0.8436);-webkit-text-stroke:1.5px;">SPIRITUAL</div>
<div class="t" id="t57" style="left:22.93px;top:1378.50px;font-size:41.42px;color:#a6ce39;transform:scaleX(0.9281);-webkit-text-stroke:1.1px;">HOMEOPATHY</div>
<div class="t" id="t58" style="left:91.73px;top:1472.00px;font-size:46.51px;color:#000;transform:scaleX(0.8498);-webkit-text-stroke:0.9px;">CAUSES</div>
<div class="t" id="t59" style="left:359.69px;top:1471.50px;font-size:45.06px;color:#fff;transform:scaleX(0.8967);-webkit-text-stroke:0.9px;">DIET &amp; REGIMEN</div>
<div class="t" id="t60" style="left:752.27px;top:1478.70px;font-size:45.06px;color:#000;transform:scaleX(0.9404);-webkit-text-stroke:0.9px;">YOGA ASANS</div>
<div class="t" id="t61" style="left:1111.72px;top:1465.20px;font-size:44.77px;color:#fff;transform:scaleX(0.8928);-webkit-text-stroke:0.9px;">MEDICINES</div>
<div class="t" id="t62" style="left:70.50px;top:1522.70px;font-size:37.06px;color:#000;transform:scaleX(0.9719);">Gentic factors</div>
<div class="t" id="t63" style="left:70.68px;top:1570.80px;font-size:37.06px;color:#000;transform:scaleX(0.9350);">Psychological</div>
<div class="t" id="t64" style="left:69.54px;top:1618.40px;font-size:37.06px;color:#000;transform:scaleX(0.9859);">problems</div>
<div class="t" id="t65" style="left:70.48px;top:1666.80px;font-size:37.06px;color:#000;transform:scaleX(1.0191);">Premature</div>
<div class="t" id="t66" style="left:70.49px;top:1714.70px;font-size:37.06px;color:#000;transform:scaleX(1.0146);">Birth</div>
<div class="t" id="t67" style="left:70.40px;top:1762.70px;font-size:37.06px;color:#000;transform:scaleX(1.0485);">Intrauterine</div>
<div class="t" id="t68" style="left:69.37px;top:1810.90px;font-size:37.06px;color:#000;transform:scaleX(1.0134);">infection</div>
<div class="t" id="t69" style="left:70.49px;top:1859.00px;font-size:37.06px;color:#000;transform:scaleX(0.9439);">Use of drugs</div>
<div class="t" id="t70" style="left:70.41px;top:1907.40px;font-size:37.06px;color:#000;transform:scaleX(0.9781);">and alchol</div>
<div class="t" id="t71" style="left:69.95px;top:1955.40px;font-size:37.06px;color:#000;transform:scaleX(1.0025);">during</div>
<div class="t" id="t72" style="left:356.08px;top:1574.50px;font-size:37.06px;color:#fff;transform:scaleX(1.0190);">Take nutrition diet</div>
<div class="t" id="t73" style="left:354.10px;top:1622.00px;font-size:37.06px;color:#fff;transform:scaleX(0.9681);">Remoove allergens</div>
<div class="t" id="t74" style="left:355.87px;top:1670.50px;font-size:37.06px;color:#fff;transform:scaleX(0.9767);">from your child's</div>
<div class="t" id="t75" style="left:354.91px;top:1718.00px;font-size:37.06px;color:#fff;transform:scaleX(1.0338);">diet</div>
<div class="t" id="t76" style="left:354.96px;top:1766.50px;font-size:37.06px;color:#fff;transform:scaleX(1.0013);">do healthy eating</div>
<div class="t" id="t77" style="left:353.88px;top:1814.00px;font-size:37.06px;color:#fff;transform:scaleX(1.0098);">habits</div>
<div class="t" id="t78" style="left:355.06px;top:1863.00px;font-size:37.06px;color:#fff;transform:scaleX(0.9864);">eat calcium rich</div>
<div class="t" id="t79" style="left:355.88px;top:1910.50px;font-size:37.06px;color:#fff;transform:scaleX(0.9721);">food</div>
<div class="t" id="t80" style="left:728.20px;top:1544.60px;font-size:37.06px;color:#000;transform:scaleX(0.9707);">Tadasana</div>
<div class="t" id="t81" style="left:726.77px;top:1592.20px;font-size:37.06px;color:#000;transform:scaleX(0.9857);">(Mountain Pose)</div>
<div class="t" id="t82" style="left:728.26px;top:1640.40px;font-size:37.06px;color:#000;transform:scaleX(0.9838);">Vrikshasana (Tree</div>
<div class="t" id="t83" style="left:727.70px;top:1688.20px;font-size:37.06px;color:#000;transform:scaleX(0.9286);">Pose)</div>
<div class="t" id="t84" style="left:727.63px;top:1736.40px;font-size:37.06px;color:#000;transform:scaleX(0.9551);">Balasana (Child's</div>
<div class="t" id="t85" style="left:727.70px;top:1784.40px;font-size:37.06px;color:#000;transform:scaleX(0.9286);">Pose)</div>
<div class="t" id="t86" style="left:1152.30px;top:1526.70px;font-size:37.06px;color:#fff;transform:scaleX(0.9744);">Arsenicum</div>
<div class="t" id="t87" style="left:1153.16px;top:1574.60px;font-size:37.06px;color:#fff;transform:scaleX(0.9857);">Baryta</div>
<div class="t" id="t88" style="left:1153.13px;top:1622.40px;font-size:37.06px;color:#fff;transform:scaleX(0.9494);">Carbonica</div>
<div class="t" id="t89" style="left:1153.13px;top:1670.40px;font-size:37.06px;color:#fff;transform:scaleX(0.9519);">Calcarea</div>
<div class="t" id="t90" style="left:1153.13px;top:1718.30px;font-size:37.06px;color:#fff;transform:scaleX(0.9494);">Carbonica</div>
<div class="t" id="t91" style="left:1153.13px;top:1766.10px;font-size:37.06px;color:#fff;transform:scaleX(0.9519);">Calcarea</div>
<div class="t" id="t92" style="left:1153.26px;top:1814.50px;font-size:37.06px;color:#fff;transform:scaleX(0.9454);">Phosphorica</div>
<svg width="1414" height="2000" viewBox="0 0 1414 2000">
<line x1="316.7" y1="408.7" x2="721.2" y2="407.6" stroke="#000" stroke-width="3.25"/>
<rect x="311.7" y="403.7" width="10" height="10" rx="1" fill="#000" transform="rotate(44.8 316.7 408.7)"/>
<circle cx="721.2" cy="407.6" r="6.8" fill="#000"/>
<line x1="743.8" y1="391.2" x2="1052.3" y2="373.8" stroke="#000" stroke-width="3.25"/>
<rect x="738.8" y="386.2" width="10" height="10" rx="1" fill="#000" transform="rotate(41.8 743.8 391.2)"/>
<circle cx="1052.3" cy="373.8" r="6.8" fill="#000"/>
<line x1="324.2" y1="671.8" x2="689.0" y2="458.5" stroke="#000" stroke-width="3.25"/>
<rect x="319.2" y="666.8" width="10" height="10" rx="1" fill="#000" transform="rotate(14.7 324.2 671.8)"/>
<circle cx="689.0" cy="458.5" r="6.8" fill="#000"/>
<line x1="783.4" y1="478.6" x2="1029.1" y2="765.8" stroke="#000" stroke-width="3.25"/>
<rect x="778.4" y="473.6" width="10" height="10" rx="1" fill="#000" transform="rotate(94.5 783.4 478.6)"/>
<circle cx="1029.1" cy="765.8" r="6.8" fill="#000"/>
<line x1="725.2" y1="507.0" x2="1069.2" y2="929.7" stroke="#000" stroke-width="3.25"/>
<rect x="720.2" y="502.0" width="10" height="10" rx="1" fill="#000" transform="rotate(95.9 725.2 507.0)"/>
<circle cx="1069.2" cy="929.7" r="6.8" fill="#000"/>
<line x1="364.2" y1="826.8" x2="720.4" y2="1002.5" stroke="#000" stroke-width="3.25"/>
<rect x="359.2" y="821.8" width="10" height="10" rx="1" fill="#000" transform="rotate(71.3 364.2 826.8)"/>
<circle cx="720.4" cy="1002.5" r="6.8" fill="#000"/>
<path d="M1113.9 1503L1121.6 1484.8L1125 1484.8L1130.5 1503L1125.6 1503L1124.4 1498.4L1120.2 1498.4L1118.6 1503Z" fill="#fff"/>
</svg>
</body></html>
